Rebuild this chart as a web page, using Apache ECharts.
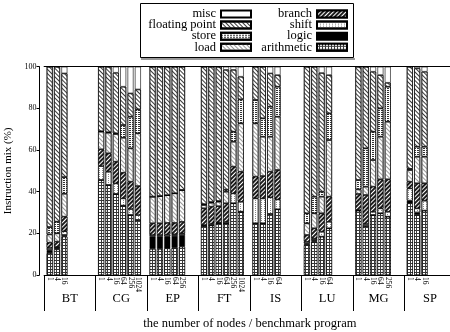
<!DOCTYPE html>
<html><head><meta charset="utf-8">
<script src="https://cdn.jsdelivr.net/npm/echarts@6/dist/echarts.min.js"></script>
<style>html,body{margin:0;padding:0;background:#fff}#c{width:450px;height:332px}</style>
</head><body><div id="c"></div>
<script>
const benchmarks = ['BT','CG','EP','FT','IS','LU','MG','SP'];
const nodeCounts = [[1,4,16],[1,4,16,64,256,1024],[1,4,16,64,256],[1,4,16,64,256,1024],[1,4,16,64],[1,4,16,64],[1,4,16,64,256],[1,4,16]];
// segment sizes (%) per bar, in bar order (BT-1, BT-4, BT-16, CG-1, ...)
const arithmetic = [10.5,12.3,18.4, 45.6,43.2,38.9,33.3,28.8,26.4, 12.5,12.5,12.8,13,13.6, 23.5,23.8,24.8,24.8,34.4,30.4, 24.8,24.8,29.3,31.5, 14.4,16,18.4,22.4, 30.9,23.5,28.8,29.6,28, 34.4,28.8,30.9];
const logic      = [1.5,0.7,0.8, 0,0,0,0,0,0, 5.9,5.9,5.8,5.8,5.6, 0,0,0,0,0,0, 0,0,0,0, 0.8,0.8,0,0, 0,0,0,0,0, 1.3,1.2,0];
const shift      = [1,0.5,1.8, 6.7,6.4,5.1,3.5,2.9,2.4, 0.8,0.8,0.8,0.8,0.8, 0.5,0.7,0.4,0.7,4.8,4.8, 12,12,8,4.8, 0.8,0.7,2.4,3.2, 0.3,1,1.6,2.4,2.4, 5.9,2,4.8];
const branch     = [2.5,2.5,7, 8,8.8,10.4,12.3,13.1,13.9, 5.6,5.6,5.6,5.4,5.5, 8,8.3,7.8,8.9,12.8,14.4, 10.4,10.7,12.3,14.1, 3.2,4.9,8.8,12, 7.7,13.9,12,13.9,15.5, 3.2,12,8.3];
const load       = [4,4,11, 8.5,9.9,13.3,16.8,16,25.3, 12.8,13.1,13.3,14.2,15.3, 1.6,1.9,2.2,5.6,12,23.2, 25.6,18.9,16.8,25.6, 5.6,7.2,8,27.2, 2.2,4,12.8,20.5,27.7, 5.6,12.8,12.8];
const store      = [3.5,5.6,8, 0.2,0.2,0.3,6.1,15.2,11.5, 0,0,0,0,0, 0.4,0.3,0.3,1,4.8,11.5, 11.2,8.8,14.4,14.4, 4.8,8,2.4,12.8, 4.5,18.4,13.6,13.6,16.8, 0.6,4.8,4.8];
const floatingPoint = [77,74.4,49.8, 31,31.5,29.1,18.4,11.2,9.6, 62.4,62.1,61.7,60.8,59.2, 66,65,64.5,57.5,29.7,10.9, 16,24.8,16,5.6, 70.4,62.4,57,18.4, 54.4,39.2,28.8,16,1.9, 49,37.6,36];
const misc       = [0,0,3.2, 0,0,2.9,9.6,12.8,10.9, 0,0,0,0,0, 0,0,0,1.5,1.5,4.8, 0,0,3.2,4, 0,0,3,4, 0,0,2.4,4,7.7, 0,0.8,2.4];
const SLOTS = 7;

const cats = [];
const barIndex = [];
let k = 0;
benchmarks.forEach((b, g) => {
  for (let i = 0; i < SLOTS; i++) {
    const n = nodeCounts[g][i];
    cats.push(b + '|' + (n === undefined ? '' : n) + '|' + i);
    barIndex.push(n === undefined ? -1 : k++);
  }
});
const expand = arr => barIndex.map(j => j < 0 ? null : arr[j]);

const serif = 'Liberation Serif';
const seriesDefs = [
  ['arithmetic', arithmetic, '#3a3a3a', {symbol:'rect', symbolSize:1, color:'#ffffff', dashArrayX:[2,1], dashArrayY:[2,1]}],
  ['logic', logic, '#000000', null],
  ['shift', shift, '#ffffff', {symbol:'rect', symbolSize:1, color:'#8a8a8a', dashArrayX:[1,2], dashArrayY:[1,1]}],
  ['branch', branch, '#1e1e1e', {symbol:'rect', symbolSize:1, color:'#ffffff', dashArrayX:[1,0], dashArrayY:[1,2], rotation:-Math.PI/4}],
  ['load', load, '#ffffff', {symbol:'rect', symbolSize:1, color:'#9a9a9a', dashArrayX:[1,0], dashArrayY:[1,2], rotation:Math.PI/4}],
  ['store', store, '#ffffff', {symbol:'rect', symbolSize:1, color:'#333333', dashArrayX:[2,1], dashArrayY:[1,1]}],
  ['floating point', floatingPoint, '#ffffff', {symbol:'rect', symbolSize:1, color:'#3a3a3a', dashArrayX:[1,0], dashArrayY:[1,2], rotation:Math.PI/4}],
  ['misc', misc, '#ffffff', null]
];

const series = seriesDefs.map(([name, arr, color, decal]) => ({
  name, type:'bar', stack:'mix', xAxisIndex:0, yAxisIndex:0,
  barWidth:6, data: expand(arr),
  itemStyle: Object.assign({color, borderColor:'#000', borderWidth:0.6}, decal ? {decal} : {}),
  emphasis:{disabled:true}
}));

const GW = 411.6;
const legendText = {fontFamily:serif, fontSize:12.5, color:'#000'};
const option = {
  animation:false,
  textStyle:{fontFamily:serif},
  grid:[
    {left:46, width:GW, top:66.7, bottom:332-275, containLabel:false, outerBoundsMode:'none'},
    {left:44.1, width:GW, top:66.7, bottom:332-275, containLabel:false, outerBoundsMode:'none'}
  ],
  legend:[
    {data:['misc','floating point','store','load'], orient:'vertical', align:'right', right:198, top:7.5,
     icon:'rect', itemWidth:30, itemHeight:7, itemGap:-1.9, padding:0, textStyle:legendText, selectedMode:false},
    {data:['branch','shift','logic','arithmetic'], orient:'vertical', align:'right', right:102, top:7.5,
     icon:'rect', itemWidth:30, itemHeight:7, itemGap:-1.9, padding:0, textStyle:legendText, selectedMode:false}
  ],
  xAxis:[
    {type:'category', gridIndex:0, data:cats, position:'bottom',
     axisLine:{show:false, onZero:false}, axisTick:{show:false},
     axisLabel:{interval:0, rotate:-90, fontSize:7.5, margin:2, color:'#000', fontFamily:serif,
       formatter: v => v.split('|')[1]}},
    {type:'category', gridIndex:1, data:benchmarks, position:'bottom',
     axisLine:{show:true, onZero:false, lineStyle:{color:'#000', width:1}},
     axisTick:{show:true, length:36, lineStyle:{color:'#000', width:1}},
     axisLabel:{interval:0, margin:17, fontSize:12.5, color:'#000', fontFamily:serif},
     name:'the number of nodes / benchmark program', nameLocation:'middle', nameGap:42,
     nameTextStyle:{fontSize:12.5, color:'#000', fontFamily:serif}},
    {type:'category', gridIndex:1, data:benchmarks, position:'top',
     axisLine:{show:true, onZero:false, lineStyle:{color:'#000', width:1}}, axisTick:{show:false}, axisLabel:{show:false}}
  ],
  yAxis:[
    {type:'value', gridIndex:0, min:0, max:100, interval:20, offset:6.5,
     axisLine:{show:true, lineStyle:{color:'#000', width:1}},
     axisTick:{show:true, length:3, lineStyle:{color:'#000'}},
     axisLabel:{fontSize:8, color:'#000', margin:3, fontFamily:serif},
     splitLine:{show:false},
     name:'Instruction mix (%)', nameLocation:'middle', nameGap:22, nameRotate:90,
     nameTextStyle:{fontSize:11, color:'#000', fontFamily:serif}},
    {type:'value', gridIndex:1, min:0, max:100, show:false}
  ],
  graphic:[
    {type:'rect', shape:{x:140.5, y:3.5, width:213, height:54}, style:{fill:'none', stroke:'#000', lineWidth:1}, z:-1},
    {type:'line', shape:{x1:141, y1:59, x2:355, y2:59}, style:{stroke:'#999', lineWidth:2}, z:-1}
  ],
  series
};
const chart = echarts.init(document.getElementById('c'), null, {renderer:'canvas'});
chart.setOption(option);
</script></body></html>
